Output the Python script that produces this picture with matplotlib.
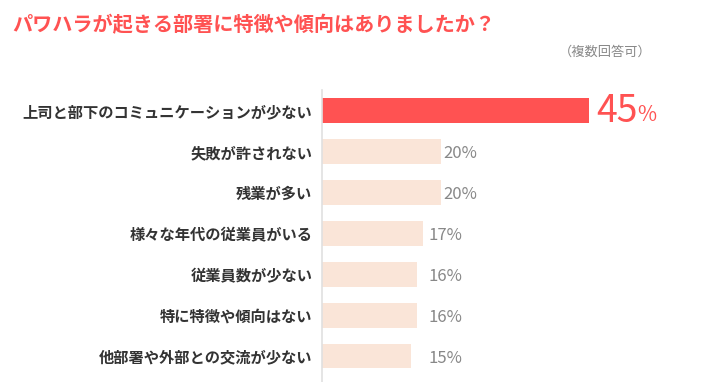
import matplotlib.pyplot as plt

plt.rcParams['font.family'] = ['Noto Sans CJK JP', 'DejaVu Sans']

categories = ['上司と部下のコミュニケーションが少ない', '失敗が許されない', '残業が多い',
              '様々な年代の従業員がいる', '従業員数が少ない', '特に特徴や傾向はない',
              '他部署や外部との交流が少ない']
values = [45, 20, 20, 17, 16, 16, 15]

W, H = 709, 382
fig = plt.figure(figsize=(W / 100, H / 100), dpi=100)
ax = fig.add_axes([322 / W, 0, 1 - 322 / W, 292 / H])

colors = ['#FF5252'] + ['#FAE5D8'] * (len(values) - 1)
pos = list(range(len(values)))
ax.barh(pos, values, height=0.6, color=colors)
ax.set_xlim(0, 65.3)
ax.set_ylim(6.63, -0.5)

for s in ['top', 'right', 'bottom']:
    ax.spines[s].set_visible(False)
ax.spines['left'].set_color('#E0E0E0')
ax.spines['left'].set_linewidth(1.2)
ax.set_xticks([])
ax.set_yticks(pos)
ax.set_yticklabels(categories, fontsize=11, fontweight='bold', color='#333333')
ax.tick_params(axis='y', length=0, pad=7)

for i, v in enumerate(values):
    if i == 0:
        ax.text(v + 1.2, i + 0.03, f'{v}', fontsize=27, color='#FF5252', va='center', ha='left')
        ax.text(v + 8.2, i + 0.12, '%', fontsize=15, color='#FF5252', va='center', ha='left')
    else:
        ax.text(max(v + 0.5, 18.0), i + 0.05, f'{v}%', fontsize=12, color='#888888',
                va='center', ha='left')

fig.text(12 / W, 1 - 25 / H, 'パワハラが起きる部署に特徴や傾向はありましたか？',
         fontsize=14.5, fontweight='bold', color='#FF5252', va='center', ha='left')
fig.text(652 / W, 1 - 52 / H, '（複数回答可）', fontsize=9.5, color='#888888',
         va='center', ha='right')

fig.savefig('out.png', dpi=100)
